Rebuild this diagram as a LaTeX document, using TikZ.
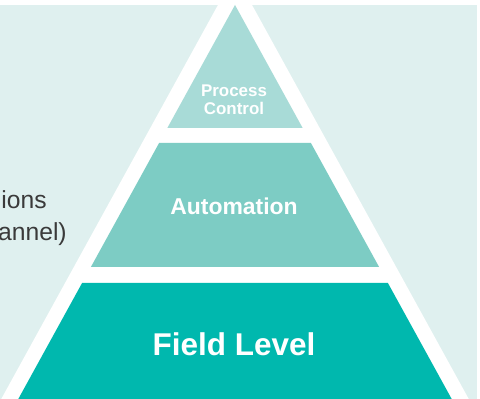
\documentclass[tikz,border=0pt]{standalone}
\usepackage{fontspec}
\setmainfont{Liberation Sans}
\usetikzlibrary{positioning}
\definecolor{bgteal}{HTML}{DFF0EF}
\definecolor{topteal}{HTML}{A8DBD7}
\definecolor{midteal}{HTML}{7DCCC4}
\definecolor{lowteal}{HTML}{00B8AE}
\definecolor{sidegrey}{HTML}{3A3A3A}
\tikzset{
  tier label/.style={text=white,inner sep=0pt,align=center},
  side text/.style={text=sidegrey,inner sep=0pt,anchor=base east,font=\fontsize{18.5}{24}\selectfont},
}

\begin{document}
\begin{tikzpicture}[x=0.75pt,y=-0.75pt]
        \useasboundingbox (0,0) rectangle (480,399);
        \clip (0,0) rectangle (480,399);
        \fill[bgteal] (0,5) rectangle (477,420);
        \fill[white] (235,-26)--(480.3,420)--(-10.3,420)--cycle;
        % pyramid tiers
        \fill[topteal] (235,5)--(302.65,128)--(167.35,128)--cycle;
        \fill[midteal] (159.1,143)--(310.9,143)--(379.1,267)--(90.9,267)--cycle;
        \fill[lowteal] (82.1,283)--(387.9,283)--(463.25,420)--(6.75,420)--cycle;
        % labels
        \node[tier label,anchor=north,font=\bfseries\fontsize{12.7}{13.5}\selectfont] (process) at (234,85) {Process\\Control};
        \node[tier label,anchor=base,font=\bfseries\fontsize{17.2}{20}\selectfont] (automation) at (234,215) {Automation};
        \node[tier label,anchor=base,font=\bfseries\fontsize{23.6}{28}\selectfont] (field) at (234,356) {Field Level};
        \node[side text] (ions) at (47,209) {ions};
        \node[side text] (annel) at (67,241) {annel)};
    \end{tikzpicture}
\end{document}
